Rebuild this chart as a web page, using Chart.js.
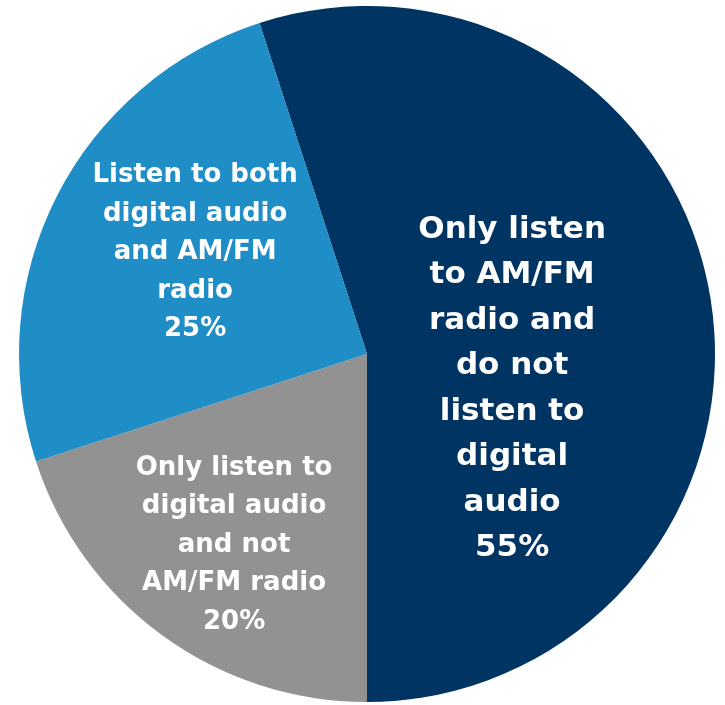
<!DOCTYPE html>
<html>
<head>
<meta charset="utf-8">
<script src="https://cdn.jsdelivr.net/npm/chart.js@4"></script>
<style>
  html, body { margin: 0; padding: 0; background: #ffffff; }
  #wrap { width: 725px; height: 705px; position: relative; }
</style>
</head>
<body>
<div id="wrap"><canvas id="c" width="725" height="705"></canvas></div>
<script>
const categories = [
  ["Only listen", "to AM/FM", "radio and", "do not", "listen to", "digital", "audio"],
  ["Only listen to", "digital audio", "and not", "AM/FM radio"],
  ["Listen to both", "digital audio", "and AM/FM", "radio"]
];
const shares = [55, 20, 25];
const sliceColors = ["#003462", "#929292", "#1f8dc6"];

// label placement (fractions of radius from the pie centre) and font styling
const labelStyle = [
  { dx: 0.417, dy: 0.100, size: 31, lineH: 45.5 },
  { dx: -0.382, dy: 0.549, size: 26, lineH: 38.5 },
  { dx: -0.494, dy: -0.292, size: 26, lineH: 38.5 }
];

const sliceLabels = {
  id: 'sliceLabels',
  afterDatasetsDraw(chart) {
    const ctx = chart.ctx;
    const meta = chart.getDatasetMeta(0);
    meta.data.forEach((arc, i) => {
      const st = labelStyle[i];
      const r = arc.outerRadius;
      const cx = arc.x + st.dx * r;
      const cy = arc.y + st.dy * r;
      const lines = categories[i].concat([shares[i] + "%"]);
      ctx.save();
      ctx.fillStyle = "#ffffff";
      ctx.font = "bold " + st.size + "px 'DejaVu Sans'";
      ctx.textAlign = "center";
      ctx.textBaseline = "middle";
      const top = cy - (lines.length - 1) * st.lineH / 2;
      lines.forEach((ln, k) => ctx.fillText(ln, cx, top + k * st.lineH));
      ctx.restore();
    });
  }
};

new Chart(document.getElementById('c'), {
  type: 'pie',
  data: {
    labels: categories.map(c => c.join(' ')),
    datasets: [{
      data: shares,
      backgroundColor: sliceColors,
      borderWidth: 0
    }]
  },
  options: {
    responsive: false,
    animation: false,
    rotation: -18,
    layout: { padding: { left: 19, right: 10, top: 6, bottom: 3 } },
    plugins: {
      legend: { display: false },
      tooltip: { enabled: false }
    }
  },
  plugins: [sliceLabels]
});
</script>
</body>
</html>
